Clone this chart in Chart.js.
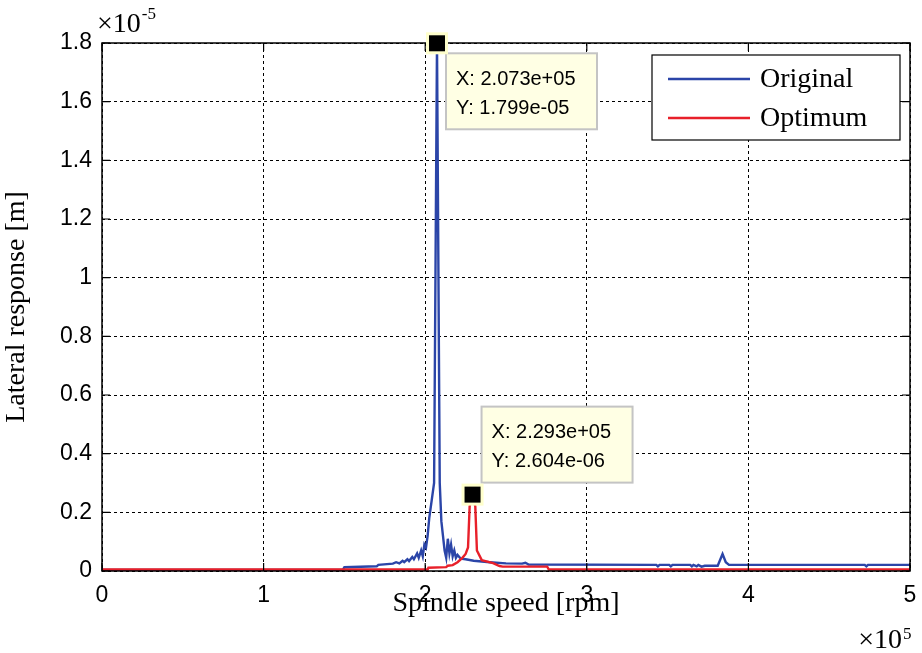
<!DOCTYPE html>
<html>
<head>
<meta charset="utf-8">
<script src="https://cdn.jsdelivr.net/npm/chart.js@4.4.1/dist/chart.umd.min.js"></script>
<style>
  html, body { margin: 0; padding: 0; background: #fff; }
  #wrap { width: 922px; height: 653px; }
</style>
</head>
<body>
<div id="wrap"><canvas id="chart"></canvas></div>
<script>
// speed in units of 1e5 rpm, response in units of 1e-5 m (as printed on the axes)
const originalSpeed = [0, 1.49, 1.50, 1.70, 1.71, 1.80, 1.82, 1.84, 1.86, 1.87, 1.89, 1.90, 1.92, 1.93,
    1.95, 1.96, 1.975, 1.985, 1.995, 2.005, 2.015, 2.025, 2.04, 2.055, 2.073, 2.09, 2.10, 2.11, 2.12,
    2.13, 2.14, 2.15, 2.16, 2.17, 2.18, 2.19, 2.20, 2.22, 2.25, 2.30, 2.40, 2.50, 2.60, 2.62, 2.64,
    3.43, 3.44, 3.45, 3.51, 3.52, 3.53, 3.64, 3.65, 3.66, 3.68, 3.69, 3.71, 3.73, 3.81, 3.84, 3.86,
    3.88, 4.72, 4.73, 4.74, 5.0];
const originalResp = [0.004, 0.004, 0.013, 0.016, 0.021, 0.025, 0.030, 0.026, 0.035, 0.030, 0.040, 0.034, 0.048, 0.040,
    0.060, 0.045, 0.070, 0.050, 0.090, 0.080, 0.120, 0.180, 0.240, 0.300, 1.799, 0.300, 0.170, 0.120, 0.070,
    0.045, 0.110, 0.060, 0.090, 0.050, 0.070, 0.045, 0.055, 0.042, 0.040, 0.035, 0.030, 0.026, 0.025, 0.028, 0.022,
    0.021, 0.016, 0.021, 0.021, 0.016, 0.021, 0.021, 0.016, 0.021, 0.016, 0.021, 0.015, 0.018, 0.018, 0.058, 0.030,
    0.021, 0.021, 0.016, 0.021, 0.021];

const optimumSpeed = [0, 2.015, 2.02, 2.13, 2.14, 2.17, 2.20, 2.23, 2.25, 2.265, 2.275, 2.293, 2.31, 2.32,
    2.35, 2.42, 2.46, 2.48, 2.755, 2.765, 5.0];
const optimumResp = [0.005, 0.005, 0.011, 0.013, 0.018, 0.020, 0.030, 0.045, 0.058, 0.080, 0.220, 0.2604, 0.220, 0.070,
    0.037, 0.027, 0.017, 0.015, 0.015, 0.005, 0.005];

const xTicks = [0, 1, 2, 3, 4, 5];
const yTicks = [0, 0.2, 0.4, 0.6, 0.8, 1, 1.2, 1.4, 1.6, 1.8];

// data cursors
const tipSpeed = [2.073, 2.293];
const tipResp = [1.799, 0.2604];

const BLUE = '#2b45a8';
const RED = '#e8202a';
const SANS = '"Liberation Sans", Arial, sans-serif';
const SERIF = '"Liberation Serif", "Times New Roman", serif';

function toPoints(xs, ys) {
    return xs.map((v, i) => ({ x: v, y: ys[i] }));
}

function fmtExp(v) {
    return v.toExponential(3).replace(/e([+-])(\d)$/, 'e$10$2');
}

const matlabFrame = {
    id: 'matlabFrame',
    afterDatasetsDraw(chart) {
        const { ctx, chartArea: a, scales: { x, y } } = chart;
        ctx.save();
        ctx.strokeStyle = '#000';
        ctx.lineWidth = 1.5;
        ctx.strokeRect(a.left, a.top, a.right - a.left, a.bottom - a.top);
        ctx.lineWidth = 1.2;
        ctx.beginPath();
        x.ticks.forEach(t => {
            const px = x.getPixelForValue(t.value);
            ctx.moveTo(px, a.bottom); ctx.lineTo(px, a.bottom - 8);
            ctx.moveTo(px, a.top); ctx.lineTo(px, a.top + 8);
        });
        y.ticks.forEach(t => {
            const py = y.getPixelForValue(t.value);
            ctx.moveTo(a.left, py); ctx.lineTo(a.left + 8, py);
            ctx.moveTo(a.right, py); ctx.lineTo(a.right - 8, py);
        });
        ctx.stroke();
        ctx.restore();
    },
    afterDraw(chart) {
        const { ctx, chartArea: a, scales: { x, y } } = chart;
        ctx.save();

        // legend
        const lw = 248, lh = 85;
        const lx = a.right - 10 - lw, ly = a.top + 12;
        ctx.fillStyle = '#fff';
        ctx.fillRect(lx, ly, lw, lh);
        ctx.strokeStyle = '#000';
        ctx.lineWidth = 1.2;
        ctx.strokeRect(lx, ly, lw, lh);
        ctx.font = '28px ' + SERIF;
        ctx.textBaseline = 'middle';
        ctx.textAlign = 'left';
        chart.data.datasets.forEach((ds, i) => {
            const ry = ly + 24 + i * 39;
            ctx.strokeStyle = ds.borderColor;
            ctx.lineWidth = 2.5;
            ctx.beginPath();
            ctx.moveTo(lx + 16, ry); ctx.lineTo(lx + 98, ry);
            ctx.stroke();
            ctx.fillStyle = '#000';
            ctx.fillText(ds.label, lx + 108, ry + 1);
        });

        // data cursors
        tipSpeed.forEach((sv, i) => {
            const px = x.getPixelForValue(sv);
            const py = y.getPixelForValue(tipResp[i]);
            const bw = 151, bh = 76;
            const bx = px + 9;
            const by = i === 0 ? py + 10 : py - 88;
            ctx.fillStyle = '#ffffe4';
            ctx.fillRect(bx, by, bw, bh);
            ctx.strokeStyle = '#c4c4c4';
            ctx.lineWidth = 2;
            ctx.strokeRect(bx, by, bw, bh);
            ctx.fillStyle = '#000';
            ctx.font = '20px ' + SANS;
            ctx.textBaseline = 'middle';
            ctx.fillText('X: ' + fmtExp(sv * 1e5), bx + 10, by + 26);
            ctx.fillText('Y: ' + fmtExp(tipResp[i] * 1e-5), bx + 10, by + 55);

            ctx.fillStyle = '#ffffcc';
            ctx.fillRect(px - 11, py - 11, 22, 22);
            ctx.fillStyle = '#000';
            ctx.fillRect(px - 8, py - 8, 16, 16);
        });

        // axis exponents
        ctx.fillStyle = '#000';
        ctx.textBaseline = 'alphabetic';
        ctx.font = '28px ' + SERIF;
        ctx.fillText('\u00d710', a.left - 5, 32);
        let w = ctx.measureText('\u00d710').width;
        ctx.font = '17px ' + SERIF;
        ctx.fillText('-5', a.left - 5 + w + 1, 19);

        ctx.font = '28px ' + SERIF;
        w = ctx.measureText('\u00d710').width;
        ctx.fillText('\u00d710', a.right - 8 - w, 648);
        ctx.font = '17px ' + SERIF;
        ctx.fillText('5', a.right - 7, 639);

        ctx.restore();
    }
};

const tickFont = { family: SANS, size: 23 };
const titleFont = { family: SERIF, size: 28 };

function noOverflow(s) {
    s.paddingLeft = 0; s.paddingRight = 0; s.paddingTop = 0; s.paddingBottom = 0;
}

new Chart(document.getElementById('chart'), {
    type: 'line',
    data: {
        datasets: [
            { label: 'Original', data: toPoints(originalSpeed, originalResp), borderColor: BLUE,
              borderWidth: 2.4, pointRadius: 0, tension: 0, order: 1 },
            { label: 'Optimum', data: toPoints(optimumSpeed, optimumResp), borderColor: RED,
              borderWidth: 2.4, pointRadius: 0, tension: 0, order: 0 }
        ]
    },
    options: {
        responsive: true,
        maintainAspectRatio: false,
        animation: false,
        layout: { padding: { top: 43, right: 12, left: 0, bottom: 0 } },
        plugins: { legend: { display: false }, tooltip: { enabled: false } },
        scales: {
            x: {
                type: 'linear', min: 0, max: 5,
                afterBuildTicks: s => { s.ticks = xTicks.map(v => ({ value: v })); },
                afterFit: s => { s.height = 82; noOverflow(s); },
                grid: { color: '#000', lineWidth: 1, drawTicks: false },
                border: { display: false, dash: [3, 3] },
                ticks: { padding: 11, font: tickFont, color: '#000', maxRotation: 0,
                         callback: v => String(v) },
                title: { display: true, text: 'Spindle speed [rpm]', font: titleFont, color: '#000',
                         padding: { top: 0, bottom: 33 } }
            },
            y: {
                type: 'linear', min: 0, max: 1.8,
                afterBuildTicks: s => { s.ticks = yTicks.map(v => ({ value: v })); },
                afterFit: s => { s.width = 102; noOverflow(s); },
                grid: { color: '#000', lineWidth: 1, drawTicks: false },
                border: { display: false, dash: [3, 3] },
                ticks: { padding: 10, font: tickFont, color: '#000', callback: v => String(v) },
                title: { display: true, text: 'Lateral response [m]', font: titleFont, color: '#000',
                         padding: { top: 0, bottom: 9 } }
            }
        }
    },
    plugins: [matlabFrame]
});
</script>
</body>
</html>
